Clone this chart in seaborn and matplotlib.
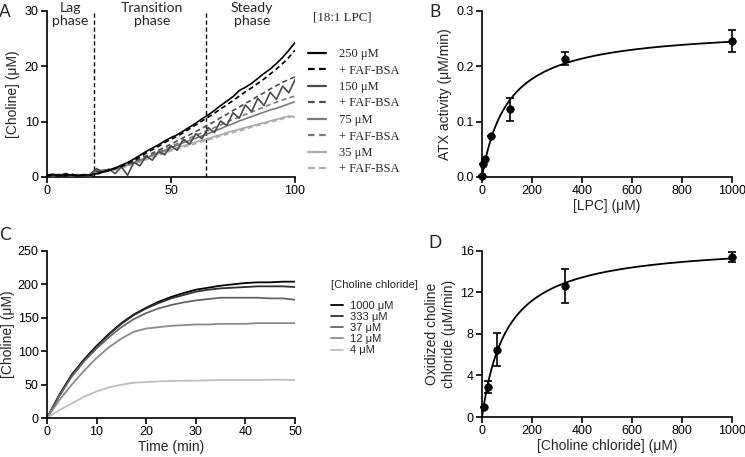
import numpy as np
import pandas as pd
import seaborn as sns
import matplotlib.pyplot as plt
from matplotlib.lines import Line2D

# ---- panel A: choline release over time, 18:1 LPC (+/- FAF-BSA)
t_a = np.arange(0, 100.1, 2.5)
lpc250 = [0.3, 0.4, 0.2, 0.5, 0.3, 0.2, 0.4, 0.3, 0.6, 0.9, 1.2, 1.6, 2.1, 2.6, 3.2, 3.9, 4.6, 5.2, 5.8, 6.5, 7.1,
          7.6, 8.3, 9.0, 9.7, 10.5, 11.2, 12.0, 12.9, 13.7, 14.5, 15.6, 16.2, 16.9, 17.8, 18.7, 19.5, 20.5, 21.6, 22.9, 24.3]
lpc250_bsa = [0.2, 0.3, 0.3, 0.2, 0.4, 0.3, 0.2, 0.3, 0.5, 0.8, 1.1, 1.5, 1.9, 2.4, 3.0, 3.6, 4.3, 4.9, 5.5, 6.2, 6.8,
              7.3, 8.0, 8.7, 9.4, 10.1, 10.8, 11.5, 12.3, 13.0, 13.8, 14.6, 15.4, 16.1, 16.9, 17.7, 18.6, 19.5, 20.5, 21.6, 22.9]
lpc150 = [0.3, 0.5, 0.2, 0.6, 0.2, 0.4, 0.1, 0.5, 1.5, 0.8, 1.4, 0.6, 1.8, 0.3, 2.6, 2.0, 3.8, 3.0, 4.6, 4.0, 5.6,
          4.8, 6.8, 5.9, 7.8, 6.9, 8.9, 8.0, 10.1, 9.3, 11.6, 10.6, 13.0, 11.8, 14.2, 12.9, 15.3, 14.0, 16.4, 15.2, 17.6]
lpc150_bsa = [0.2, 0.4, 0.3, 0.3, 0.5, 0.2, 0.3, 0.4, 1.0, 1.1, 1.3, 1.6, 1.9, 2.3, 2.8, 3.3, 3.8, 4.3, 4.8, 5.4, 5.9,
              6.5, 7.1, 7.6, 8.2, 8.8, 9.4, 10.0, 10.7, 11.3, 12.0, 12.6, 13.3, 13.9, 14.6, 15.2, 15.9, 16.5, 17.1, 17.6, 18.1]
lpc75 = [0.3, 0.2, 0.4, 0.3, 0.2, 0.3, 0.4, 0.2, 1.2, 1.2, 1.3, 1.5, 1.8, 2.2, 2.6, 3.0, 3.5, 3.9, 4.4, 4.8, 5.3,
         5.7, 6.2, 6.6, 7.0, 7.4, 7.8, 8.3, 8.7, 9.2, 9.6, 10.1, 10.5, 10.9, 11.3, 11.7, 12.1, 12.4, 12.8, 13.2, 13.6]
lpc75_bsa = [0.2, 0.3, 0.2, 0.4, 0.3, 0.2, 0.3, 0.3, 1.1, 1.2, 1.3, 1.5, 1.8, 2.2, 2.6, 3.0, 3.5, 4.0, 4.5, 5.0, 5.5,
             6.0, 6.5, 7.0, 7.5, 8.0, 8.4, 8.9, 9.4, 9.9, 10.4, 10.8, 11.3, 11.7, 12.2, 12.6, 13.1, 13.5, 13.9, 14.3, 14.6]
lpc35 = [0.4, 0.3, 0.5, 0.3, 0.4, 0.3, 0.2, 0.4, 1.0, 1.1, 1.2, 1.4, 1.8, 2.1, 2.5, 2.9, 3.3, 3.8, 4.2, 4.6, 4.9,
         5.3, 5.6, 6.0, 6.3, 6.6, 6.9, 7.3, 7.6, 8.0, 8.3, 8.6, 8.9, 9.2, 9.5, 9.8, 10.1, 10.4, 10.7, 11.0, 10.8]
lpc35_bsa = [0.3, 0.4, 0.3, 0.2, 0.3, 0.4, 0.3, 0.3, 0.9, 1.0, 1.1, 1.3, 1.6, 1.9, 2.3, 2.7, 3.1, 3.5, 3.9, 4.3, 4.7,
             5.0, 5.4, 5.7, 6.0, 6.4, 6.7, 7.0, 7.4, 7.7, 8.0, 8.3, 8.6, 9.0, 9.3, 9.6, 9.9, 10.2, 10.5, 10.8, 11.1]
a_labels = ["250 μM", "+ FAF-BSA", "150 μM", "+ FAF-BSA", "75 μM", "+ FAF-BSA", "35 μM", "+ FAF-BSA"]
a_colors = ["#000000", "#000000", "#4a4a4a", "#4a4a4a", "#7a7a7a", "#7a7a7a", "#ababab", "#ababab"]
phase_bounds = [19, 64]

# ---- panel B: ATX activity vs LPC
lpc_conc = [0, 4, 12, 37, 111, 333, 1000]
atx_rate = [0.002, 0.024, 0.033, 0.074, 0.122, 0.214, 0.245]
atx_err = [0, 0, 0, 0, 0.021, 0.012, 0.020]
atx_vmax, atx_km = 0.27, 105

# ---- panel C: choline oxidase standard curves
t_c = np.arange(0, 50.1, 2.5)
cc1000 = [0, 35, 65, 88, 108, 126, 142, 155, 165, 174, 181, 187, 192, 195, 198, 200, 202, 203, 203, 204, 204]
cc333 = [0, 34, 64, 87, 107, 125, 141, 154, 164, 172, 179, 184, 189, 192, 194, 195, 196, 197, 197, 197, 196]
cc37 = [0, 33, 62, 85, 104, 121, 136, 148, 157, 164, 169, 173, 176, 178, 180, 180, 180, 180, 179, 179, 177]
cc12 = [0, 27, 50, 71, 90, 106, 119, 129, 134, 136, 138, 139, 140, 140, 141, 141, 141, 142, 142, 142, 142]
cc4 = [0, 12, 22, 32, 40, 46, 50, 53, 54, 55, 55.5, 56, 56, 56.5, 57, 57, 57, 57, 57.5, 57.5, 57]
c_labels = ["1000 μM", "333 μM", "37 μM", "12 μM", "4 μM"]
c_colors = ["#000000", "#303030", "#666666", "#8a8a8a", "#bdbdbd"]

# ---- panel D: oxidized choline chloride rate
ch_conc = [8, 23, 62, 333, 1000]
ch_rate = [1.0, 2.9, 6.5, 12.6, 15.4]
ch_err = [0, 0.6, 1.6, 1.65, 0.45]
ch_vmax, ch_km = 16.8, 100

sns.set_style("ticks")
plt.rcParams['font.family'] = ['Liberation Sans', 'DejaVu Sans']
plt.rcParams['axes.linewidth'] = 1.2
plt.rcParams['xtick.major.width'] = 1.2
plt.rcParams['ytick.major.width'] = 1.2
plt.rcParams['xtick.major.size'] = 4
plt.rcParams['ytick.major.size'] = 4
plt.rcParams['xtick.labelsize'] = 9
plt.rcParams['ytick.labelsize'] = 9
plt.rcParams['axes.labelsize'] = 10
plt.rcParams['xtick.color'] = 'black'
plt.rcParams['ytick.color'] = 'black'
plt.rcParams['axes.edgecolor'] = 'black'

fig = plt.figure(figsize=(7.45, 4.57), dpi=100)
axA = fig.add_axes([0.063, 0.613, 0.333, 0.363])
axB = fig.add_axes([0.647, 0.613, 0.335, 0.363])
axC = fig.add_axes([0.063, 0.085, 0.333, 0.366])
axD = fig.add_axes([0.647, 0.0875, 0.335, 0.3635])

for ax in (axA, axB, axC, axD):
    sns.despine(ax=ax)
    ax.tick_params(pad=2)

# A
a_series = [lpc250, lpc250_bsa, lpc150, lpc150_bsa, lpc75, lpc75_bsa, lpc35, lpc35_bsa]
handles = []
for i, (ys, col) in enumerate(zip(a_series, a_colors)):
    ls = '-' if i % 2 == 0 else (0, (3, 2))
    sns.lineplot(x=t_a, y=ys, ax=axA, color=col, linestyle=ls, linewidth=1.2, zorder=3 - i * 0.1)
    handles.append(Line2D([], [], color=col, linestyle=ls, linewidth=1.6))
for xb in phase_bounds:
    axA.axvline(xb, 0, 1, color='black', linestyle=(0, (3, 2)), linewidth=1.0)
axA.set_xlim(0, 100)
axA.set_ylim(0, 30)
axA.set_xticks([0, 50, 100])
axA.set_yticks([0, 10, 20, 30])
axA.set_ylabel("[Choline] (μM)", labelpad=3)
for xc, txt in [(9.3, "Lag\nphase"), (42.3, "Transition\nphase"), (82.7, "Steady\nphase")]:
    axA.text(xc, 29.4, txt, ha='center', va='center', fontsize=10.2, family=['Lato', 'DejaVu Sans'],
             linespacing=1.05, clip_on=False)
fig.text(313 / 745, 1 - 17 / 457, "[18:1 LPC]", ha='left', va='center', fontsize=9.3,
         family=['Liberation Serif', 'DejaVu Serif'])
fig.legend(handles, a_labels, loc='upper left', bbox_to_anchor=(308 / 745, 1 - 48 / 457),
           bbox_transform=fig.transFigure, frameon=False, borderpad=0, borderaxespad=0,
           handlelength=1.45, handletextpad=1.0, labelspacing=0.36,
           prop={'family': ['Liberation Serif', 'DejaVu Serif'], 'size': 9})

# B
xfit_b = np.linspace(0, 1000, 400)
sns.lineplot(x=xfit_b, y=atx_vmax * xfit_b / (atx_km + xfit_b), ax=axB, color='black', linewidth=1.3)
axB.errorbar(lpc_conc, atx_rate, yerr=atx_err, fmt='none', ecolor='black', elinewidth=1.2, capsize=3,
             capthick=1.2, clip_on=False, zorder=4)
sns.scatterplot(x=lpc_conc, y=atx_rate, ax=axB, color='black', s=30, edgecolor='black', zorder=5, clip_on=False)
axB.set_xlim(0, 1000)
axB.set_ylim(0, 0.3)
axB.set_xticks(range(0, 1001, 200))
axB.set_yticks([0, 0.1, 0.2, 0.3])
axB.set_yticklabels(["0.0", "0.1", "0.2", "0.3"])
axB.set_xlabel("[LPC] (μM)", labelpad=1)
axB.set_ylabel("ATX activity (μM/min)", labelpad=3)

# C
c_series = [cc1000, cc333, cc37, cc12, cc4]
for ys, col, lab in zip(c_series, c_colors, c_labels):
    sns.lineplot(x=t_c, y=ys, ax=axC, color=col, linewidth=1.3, label=lab)
axC.set_xlim(0, 50)
axC.set_ylim(0, 250)
axC.set_xticks(range(0, 51, 10))
axC.set_yticks(range(0, 251, 50))
axC.set_xlabel("Time (min)", labelpad=1)
axC.set_ylabel("[Choline] (μM)", labelpad=2)
h, l = axC.get_legend_handles_labels()
axC.get_legend().remove()
fig.text(331 / 745, 1 - 285 / 457, "[Choline chloride]", ha='left', va='center', fontsize=8)
fig.legend(h, l, loc='upper left', bbox_to_anchor=(331 / 745, 1 - 301 / 457),
           bbox_transform=fig.transFigure, frameon=False, borderpad=0, borderaxespad=0,
           handlelength=1.1, handletextpad=0.6, labelspacing=0.1, fontsize=8)

# D
xfit_d = np.linspace(0, 1000, 400)
sns.lineplot(x=xfit_d, y=ch_vmax * xfit_d / (ch_km + xfit_d), ax=axD, color='black', linewidth=1.3)
axD.errorbar(ch_conc, ch_rate, yerr=ch_err, fmt='none', ecolor='black', elinewidth=1.2, capsize=3,
             capthick=1.2, clip_on=False, zorder=4)
sns.scatterplot(x=ch_conc, y=ch_rate, ax=axD, color='black', s=30, edgecolor='black', zorder=5, clip_on=False)
axD.set_xlim(0, 1000)
axD.set_ylim(0, 16)
axD.set_xticks(range(0, 1001, 200))
axD.set_yticks(range(0, 17, 4))
axD.set_xlabel("[Choline chloride] (μM)", labelpad=1)
axD.set_ylabel("Oxidized choline\nchloride (μM/min)", labelpad=3)

for x, y, letter in [(5, 12, "A"), (435, 12, "B"), (5, 235, "C"), (435, 243, "D")]:
    fig.text(x / 745, 1 - y / 457, letter, ha='center', va='center', fontsize=12.5,
             family=['Lato', 'DejaVu Sans'])

fig.savefig("out.png", dpi=100)
